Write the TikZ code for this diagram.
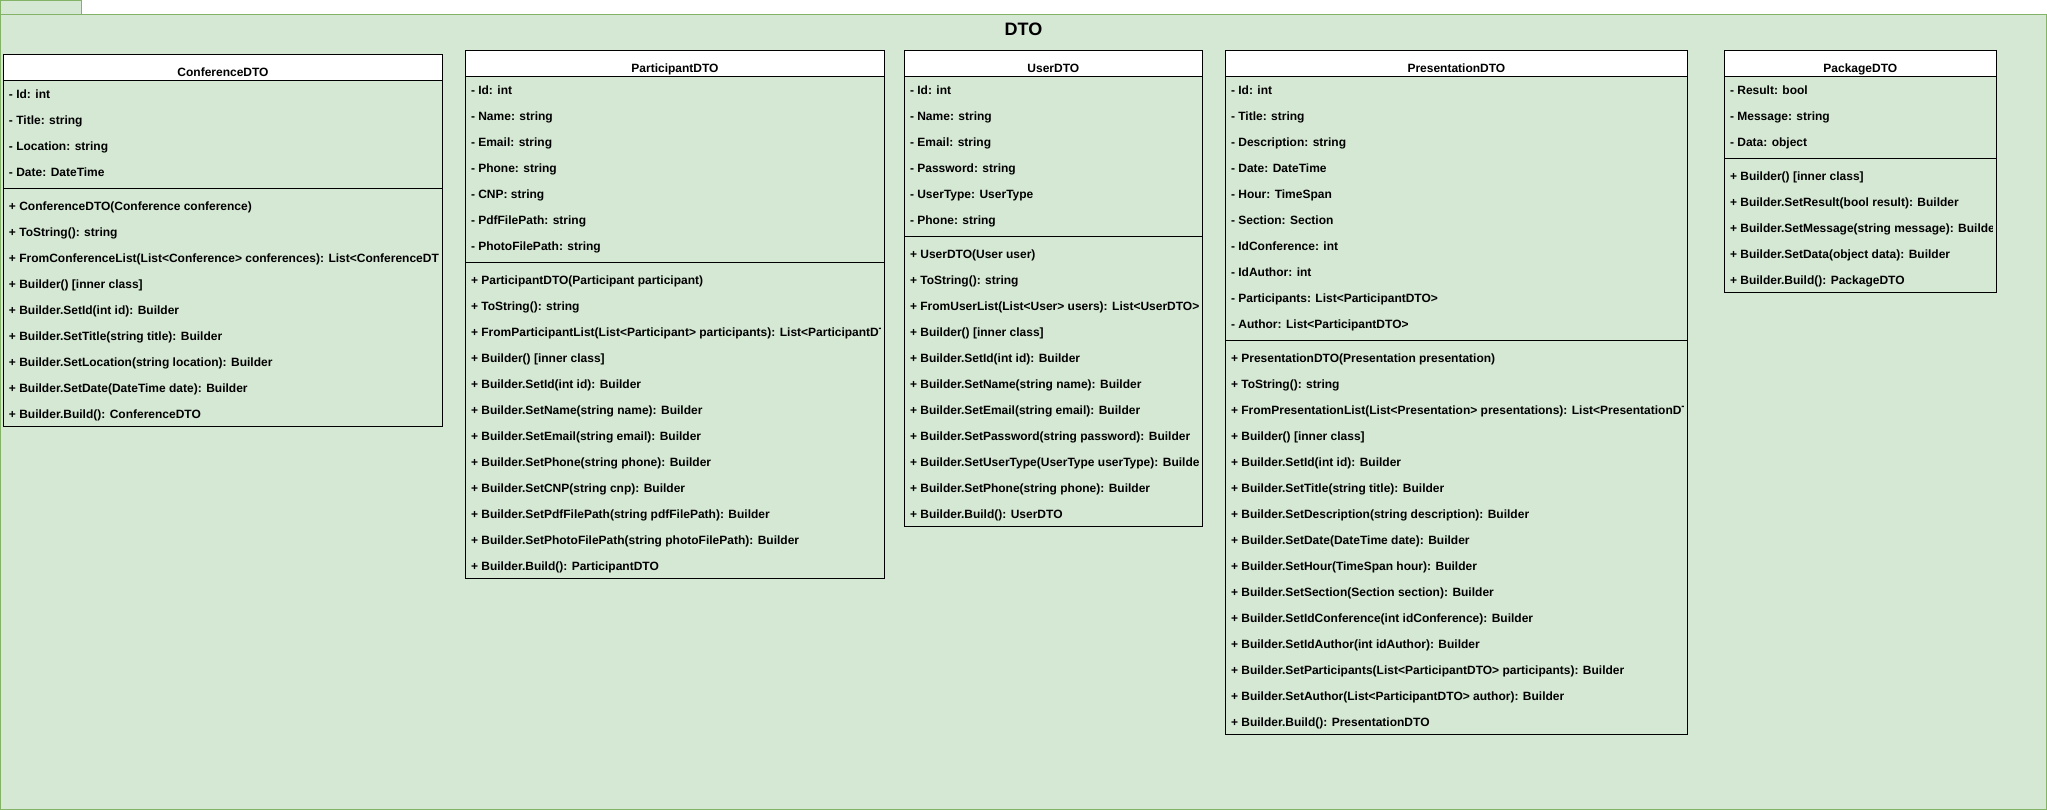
\documentclass[tikz,border=0pt]{standalone}
\usepackage{fontspec}
\setmainfont{Liberation Sans}
\definecolor{pkgfill}{HTML}{D5E8D4}
\definecolor{pkgline}{HTML}{82B366}
\tikzset{
  rowtext/.style={anchor=base west, inner sep=0pt, font=\fontsize{12}{14}\selectfont\bfseries},
  hdrtext/.style={anchor=base, inner sep=0pt, font=\fontsize{12}{14}\selectfont\bfseries},
  boxline/.style={draw=black, line width=1pt},
}
\newcommand\umlbox[9]{%
  \pgfmathsetmacro\ya{#3+26}%
  \pgfmathsetmacro\ys{#3+26+26*#6+4}%
  \pgfmathsetmacro\ym{#3+26+26*#6+8}%
  \pgfmathsetmacro\yb{#3+26+26*#6+8+26*#7}%
  \fill[white] (#2,#3) rectangle (#4,\ya);
  \draw[boxline] (#2,#3) rectangle (#4,\yb);
  \draw[boxline] (#2,\ya) -- (#4,\ya);
  \draw[boxline] (#2,\ys) -- (#4,\ys);
  \node[hdrtext] (#1) at ({(#2+#4)/2},#3+22.4) {#5};
  \begin{scope}
    \clip (#2,#3) rectangle (#4-4,\yb);
    \foreach \t [count=\i] in {#8}
      \node[rowtext] (#1-a\i) at (#2+5.5,{\ya+26*(\i-1)+18.3}) {\t};
    \foreach \t [count=\i] in {#9}
      \node[rowtext] (#1-m\i) at (#2+5.5,{\ym+26*(\i-1)+18.3}) {\t};
  \end{scope}
}
\begin{document}
\begin{tikzpicture}[x=1pt,y=-1pt]
\useasboundingbox (0,0) rectangle (2047,810);
% package
\draw[fill=pkgfill, draw=pkgline, line width=1pt] (0.5,0.5) rectangle (81,14.5);
\draw[fill=pkgfill, draw=pkgline, line width=1pt] (0.5,14.5) rectangle (2046.5,809.5);
\node[anchor=base, inner sep=0pt, font=\fontsize{18}{20}\selectfont\bfseries] (pkgtitle) at (1023.5,35.8) {DTO};

\umlbox{conf}{3.3}{54.3}{442.7}{ConferenceDTO}{4}{9}%
{- Id: int, - Title: string, - Location: string, - Date: DateTime}%
{+ ConferenceDTO(Conference conference), + ToString(): string, + FromConferenceList(List<Conference> conferences): List<ConferenceDTO>, + Builder() [inner class], + Builder.SetId(int id): Builder, + Builder.SetTitle(string title): Builder, + Builder.SetLocation(string location): Builder, + Builder.SetDate(DateTime date): Builder, + Builder.Build(): ConferenceDTO}

\umlbox{part}{465.3}{50.3}{884.7}{ParticipantDTO}{7}{12}%
{- Id: int, - Name: string, - Email: string, - Phone: string, - CNP: string, - PdfFilePath: string, - PhotoFilePath: string}%
{+ ParticipantDTO(Participant participant), + ToString(): string, + FromParticipantList(List<Participant> participants): List<ParticipantDTO>, + Builder() [inner class], + Builder.SetId(int id): Builder, + Builder.SetName(string name): Builder, + Builder.SetEmail(string email): Builder, + Builder.SetPhone(string phone): Builder, + Builder.SetCNP(string cnp): Builder, + Builder.SetPdfFilePath(string pdfFilePath): Builder, + Builder.SetPhotoFilePath(string photoFilePath): Builder, + Builder.Build(): ParticipantDTO}

\umlbox{user}{904.3}{50.3}{1202.3}{UserDTO}{6}{11}%
{- Id: int, - Name: string, - Email: string, - Password: string, - UserType: UserType, - Phone: string}%
{+ UserDTO(User user), + ToString(): string, + FromUserList(List<User> users): List<UserDTO>, + Builder() [inner class], + Builder.SetId(int id): Builder, + Builder.SetName(string name): Builder, + Builder.SetEmail(string email): Builder, + Builder.SetPassword(string password): Builder, + Builder.SetUserType(UserType userType): Builder, + Builder.SetPhone(string phone): Builder, + Builder.Build(): UserDTO}

\umlbox{pres}{1225.3}{50.3}{1687.5}{PresentationDTO}{10}{15}%
{- Id: int, - Title: string, - Description: string, - Date: DateTime, - Hour: TimeSpan, - Section: Section, - IdConference: int, - IdAuthor: int, - Participants: List<ParticipantDTO>, - Author: List<ParticipantDTO>}%
{+ PresentationDTO(Presentation presentation), + ToString(): string, + FromPresentationList(List<Presentation> presentations): List<PresentationDTO>, + Builder() [inner class], + Builder.SetId(int id): Builder, + Builder.SetTitle(string title): Builder, + Builder.SetDescription(string description): Builder, + Builder.SetDate(DateTime date): Builder, + Builder.SetHour(TimeSpan hour): Builder, + Builder.SetSection(Section section): Builder, + Builder.SetIdConference(int idConference): Builder, + Builder.SetIdAuthor(int idAuthor): Builder, + Builder.SetParticipants(List<ParticipantDTO> participants): Builder, + Builder.SetAuthor(List<ParticipantDTO> author): Builder, + Builder.Build(): PresentationDTO}

\umlbox{pack}{1724.3}{50.3}{1996.3}{PackageDTO}{3}{5}%
{- Result: bool, - Message: string, - Data: object}%
{+ Builder() [inner class], + Builder.SetResult(bool result): Builder, + Builder.SetMessage(string message): Builder, + Builder.SetData(object data): Builder, + Builder.Build(): PackageDTO}
\end{tikzpicture}
\end{document}
